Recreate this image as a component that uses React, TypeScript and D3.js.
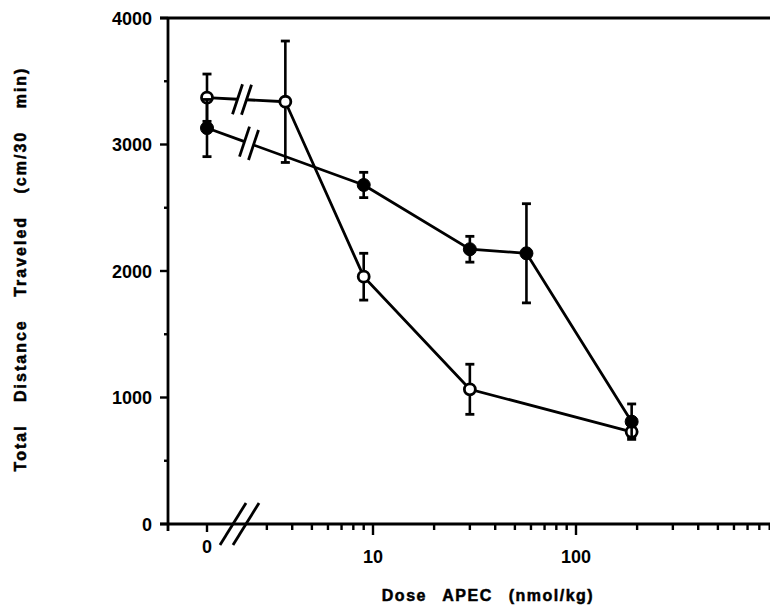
import React from 'react';
import * as d3 from 'd3';

// values (dose in nmol/kg, distance in cm/30 min)
const filledDose = [0, 9, 30, 57, 188];
const filledMean = [3130, 2680, 2172, 2140, 809];
const filledSem = [226, 100, 102, 392, 140];

const openDose = [0, 3.7, 9, 30, 188];
const openMean = [3370, 3338, 1955, 1065, 729];
const openSem = [187, 480, 185, 198, 40];

const yTicks = [0, 1000, 2000, 3000, 4000];
const yMinorTicks = [500, 1500, 2500, 3500];
const xTickValues = [0, 10, 100];
const xTickLabels = ['0', '10', '100'];
const xMinorTicks = [3, 4, 5, 6, 7, 8, 9, 20, 30, 40, 50, 60, 70, 80, 90, 200, 300, 400, 500, 600, 700, 800, 900];

const width = 770;
const height = 610;
const left = 168;
const right = 770;
const top = 18;
const bottom = 524;
const zeroX = 207;

const font = '"Liberation Sans", Arial, Helvetica, sans-serif';

const x = d3.scaleLog().domain([10, 100]).range([373, 576]);
const y = d3.scaleLinear().domain([0, 4000]).range([bottom, top]);
const px = (d: number) => (d === 0 ? zeroX : x(d));

type Pt = { dose: number; mean: number; sem: number };

function toPoints(dose: number[], mean: number[], sem: number[]): Pt[] {
  return dose.map((d, i) => ({ dose: d, mean: mean[i], sem: sem[i] }));
}

// first segment (0 -> next dose) drawn with a "//" break
function BrokenSegment({ a, b, breakX }: { a: Pt; b: Pt; breakX: number }) {
  const x0 = px(a.dose), y0 = y(a.mean);
  const x1 = px(b.dose), y1 = y(b.mean);
  const at = (xx: number) => y0 + ((xx - x0) / (x1 - x0)) * (y1 - y0);
  const g = 4.5;
  const s1 = breakX - g, s2 = breakX + g;
  return (
    <g stroke="#000" strokeWidth={2.8} fill="none">
      <line x1={x0} y1={y0} x2={s1} y2={at(s1)} />
      <line x1={s2} y1={at(s2)} x2={x1} y2={y1} />
      {[s1, s2].map((sx, i) => (
        <line key={i} x1={sx - 5} y1={at(sx) + 15} x2={sx + 5} y2={at(sx) - 15} />
      ))}
    </g>
  );
}

function Series({ pts, filled, breakX }: { pts: Pt[]; filled: boolean; breakX: number }) {
  const line = d3.line<Pt>().x(d => px(d.dose)).y(d => y(d.mean));
  return (
    <g>
      <BrokenSegment a={pts[0]} b={pts[1]} breakX={breakX} />
      <path d={line(pts.slice(1)) || ''} stroke="#000" strokeWidth={2.8} fill="none" />
      {pts.map((d, i) => {
        const cx = px(d.dose);
        const hi = y(d.mean + d.sem), lo = y(d.mean - d.sem);
        return (
          <g key={'e' + i} stroke="#000">
            <line x1={cx} x2={cx} y1={hi} y2={lo} strokeWidth={2.6} />
            <line x1={cx - 4.5} x2={cx + 4.5} y1={hi} y2={hi} strokeWidth={2.8} />
            <line x1={cx - 4.5} x2={cx + 4.5} y1={lo} y2={lo} strokeWidth={2.8} />
          </g>
        );
      })}
      {pts.map((d, i) => (
        <circle key={'c' + i} cx={px(d.dose)} cy={y(d.mean)} r={filled ? 6.5 : 5.5}
          fill={filled ? '#000' : '#fff'} stroke="#000" strokeWidth={filled ? 1 : 2.8} />
      ))}
    </g>
  );
}

export default function App() {
  const filled = toPoints(filledDose, filledMean, filledSem);
  const open = toPoints(openDose, openMean, openSem);
  const breakC = [233, 246];

  return (
    <svg width={width} height={height} style={{ position: 'absolute', left: 0, top: 0, background: '#fff' }}
      fontFamily={font}>
      <rect width={width} height={height} fill="#fff" />

      {/* frame: y axis, top line, x axis */}
      <g stroke="#000" strokeWidth={2.8}>
        <line x1={left} x2={left} y1={top - 1} y2={bottom + 7} />
        <line x1={160} x2={right} y1={top} y2={top} />
        <line x1={160} x2={right} y1={bottom} y2={bottom} />
      </g>

      {/* y ticks */}
      <g stroke="#000" strokeWidth={2.4}>
        {yTicks.map(t => <line key={t} x1={160} x2={left} y1={y(t)} y2={y(t)} />)}
        {yMinorTicks.map(t => <line key={t} x1={164} x2={left} y1={y(t)} y2={y(t)} />)}
      </g>
      <g fontSize={18} fontWeight="bold" textAnchor="end">
        {yTicks.map(t => (
          <text key={t} x={152} y={y(t) + 6.5}>{t}</text>
        ))}
      </g>

      {/* x ticks */}
      <g stroke="#000" strokeWidth={2.4}>
        {xTickValues.map(t => <line key={t} x1={px(t)} x2={px(t)} y1={bottom} y2={bottom + (t === 0 ? 8 : 11)} />)}
        {xMinorTicks.filter(t => x(t) < right).map(t => (
          <line key={t} x1={x(t)} x2={x(t)} y1={bottom} y2={bottom + 6} />
        ))}
      </g>
      <g fontSize={18} fontWeight="bold" textAnchor="middle">
        {xTickValues.map((t, i) => (
          <text key={t} x={px(t)} y={t === 0 ? 553 : 563}>{xTickLabels[i]}</text>
        ))}
      </g>

      {/* x axis break */}
      <g stroke="#000" strokeWidth={2.8}>
        {breakC.map(c => (
          <line key={c} x1={c - 13} y1={bottom + 21} x2={c + 13} y2={bottom - 21} />
        ))}
      </g>

      {/* axis titles */}
      <g fontSize={16} fontWeight="bold" textAnchor="middle" stroke="#000" strokeWidth={0.5}>
        <text x={488} y={601} letterSpacing={1.5} wordSpacing={10}>Dose APEC (nmol/kg)</text>
        <text transform="translate(26,269) rotate(-90)" letterSpacing={2} wordSpacing={16}>
          Total Distance Traveled (cm/30 min)
        </text>
      </g>

      <Series pts={open} filled={false} breakX={242} />
      <Series pts={filled} filled={true} breakX={249} />
    </svg>
  );
}
